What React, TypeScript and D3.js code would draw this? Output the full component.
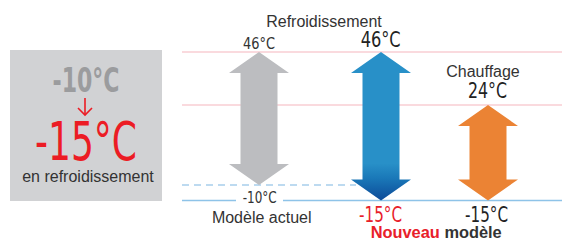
import React from "react";
import * as d3 from "d3";

// temperature reference lines
const hotLines = [46, 24];
const coldLines = [-15];
const dashedLines = [-10];

// arrows: key, top temp, bottom temp
const arrowKeys = ["actuel", "froid", "chaud"];
const arrowTops = [46, 46, 24];
const arrowBottoms = [-10, -15, -15];
const arrowColors = ["#bcbdc0", "url(#blueGrad)", "#eb8334"];

const W = 562;
const H = 241;

const condensed = "'DejaVu Sans Condensed', 'Liberation Sans Narrow', Roboto, sans-serif";
const sans = "'Liberation Sans', Arial, sans-serif";

const App = () => {
  // piecewise: the picture is not quite linear
  const y = d3.scaleLinear().domain([-15, -10, 24, 46]).range([200.5, 185, 105, 52]);
  const x = d3.scaleOrdinal<string, number>().domain(arrowKeys).range([259, 381, 488]);

  const headH = 21;
  const headW = 60;
  const shaftW = 37;

  const arrowPath = (cx: number, t: number, b: number) => {
    const p = d3.path();
    p.moveTo(cx, t);
    p.lineTo(cx + headW / 2, t + headH);
    p.lineTo(cx + shaftW / 2, t + headH);
    p.lineTo(cx + shaftW / 2, b - headH);
    p.lineTo(cx + headW / 2, b - headH);
    p.lineTo(cx, b);
    p.lineTo(cx - headW / 2, b - headH);
    p.lineTo(cx - shaftW / 2, b - headH);
    p.lineTo(cx - shaftW / 2, t + headH);
    p.lineTo(cx - headW / 2, t + headH);
    p.closePath();
    return p.toString();
  };

  const num = (
    txt: string, cx: number, base: number, size: number, len: number, fill: string, weight = "normal"
  ) => (
    <text
      x={cx - len / 2}
      y={base}
      fontFamily={condensed}
      fontSize={size}
      fontWeight={weight}
      fill={fill}
      textLength={len}
      lengthAdjust="spacingAndGlyphs"
    >
      {txt}
    </text>
  );

  return (
    <svg width={W} height={H} style={{ position: "absolute", left: 0, top: 0 }}>
      <defs>
        <linearGradient id="blueGrad" x1="0" x2="0" y1={y(46)} y2={y(-15)} gradientUnits="userSpaceOnUse">
          <stop offset="0" stopColor="#2890c8" />
          <stop offset="0.75" stopColor="#2890c8" />
          <stop offset="0.85" stopColor="#1a78b8" />
          <stop offset="1" stopColor="#0c4a98" />
        </linearGradient>
      </defs>

      {/* left box */}
      <rect x={10} y={50} width={152} height={151} fill="#d1d2d4" />
      {num("-10°C", 86, 91.5, 34, 67, "#9b9c9e", "bold")}
      <g stroke="#ec1c24" strokeWidth={1.6} fill="none">
        <line x1={85} y1={98} x2={85} y2={115} />
        <polyline points="78,108 85,115 92,108" />
      </g>
      {num("-15°C", 86, 160, 54, 102, "#ec1c24")}
      <text x={88} y={181.5} textAnchor="middle" fontFamily={sans} fontSize={16} fill="#333">
        en refroidissement
      </text>

      {/* reference lines */}
      {hotLines.map((t) => (
        <line key={t} x1={182} x2={W} y1={y(t)} y2={y(t)} stroke="#f5b5bd" strokeWidth={1.2} />
      ))}
      {dashedLines.map((t) => (
        <line key={t} x1={182} x2={356} y1={y(t)} y2={y(t)} stroke="#7db6e2" strokeWidth={1.2} strokeDasharray="7,5" />
      ))}
      {coldLines.map((t) => (
        <g key={t}>
          <line x1={182} x2={236} y1={y(t)} y2={y(t)} stroke="#8ec3e8" strokeWidth={1.4} />
          <line x1={283} x2={W} y1={y(t)} y2={y(t)} stroke="#8ec3e8" strokeWidth={1.4} />
        </g>
      ))}

      {/* arrows */}
      {arrowKeys.map((k, i) => (
        <path key={k} d={arrowPath(x(k), y(arrowTops[i]), y(arrowBottoms[i]))} fill={arrowColors[i]} />
      ))}

      {/* labels */}
      <text x={324} y={26.5} textAnchor="middle" fontFamily={sans} fontSize={16} fill="#333">
        Refroidissement
      </text>
      <text x={483} y={76.7} textAnchor="middle" fontFamily={sans} fontSize={16} fill="#333">
        Chauffage
      </text>
      <text x={261.7} y={222.7} textAnchor="middle" fontFamily={sans} fontSize={16} fill="#333">
        Modèle actuel
      </text>
      <text x={370.7} y={238} fontFamily={sans} fontSize={16} fontWeight="bold" textLength={131} lengthAdjust="spacingAndGlyphs">
        <tspan fill="#e8202a">Nouveau</tspan>
        <tspan fill="#333"> modèle</tspan>
      </text>

      {num("46°C", 259, 48.5, 15, 32, "#333")}
      {num("46°C", 380.7, 46.7, 20.5, 40, "#222")}
      {num("24°C", 487.5, 98.3, 20.5, 39, "#222")}
      {num("-10°C", 259.7, 203.3, 15, 34, "#333")}
      {num("-15°C", 380.5, 221.7, 20.5, 43, "#e8202a")}
      {num("-15°C", 486.5, 221.7, 20.5, 43, "#222")}
    </svg>
  );
};

export default App;
